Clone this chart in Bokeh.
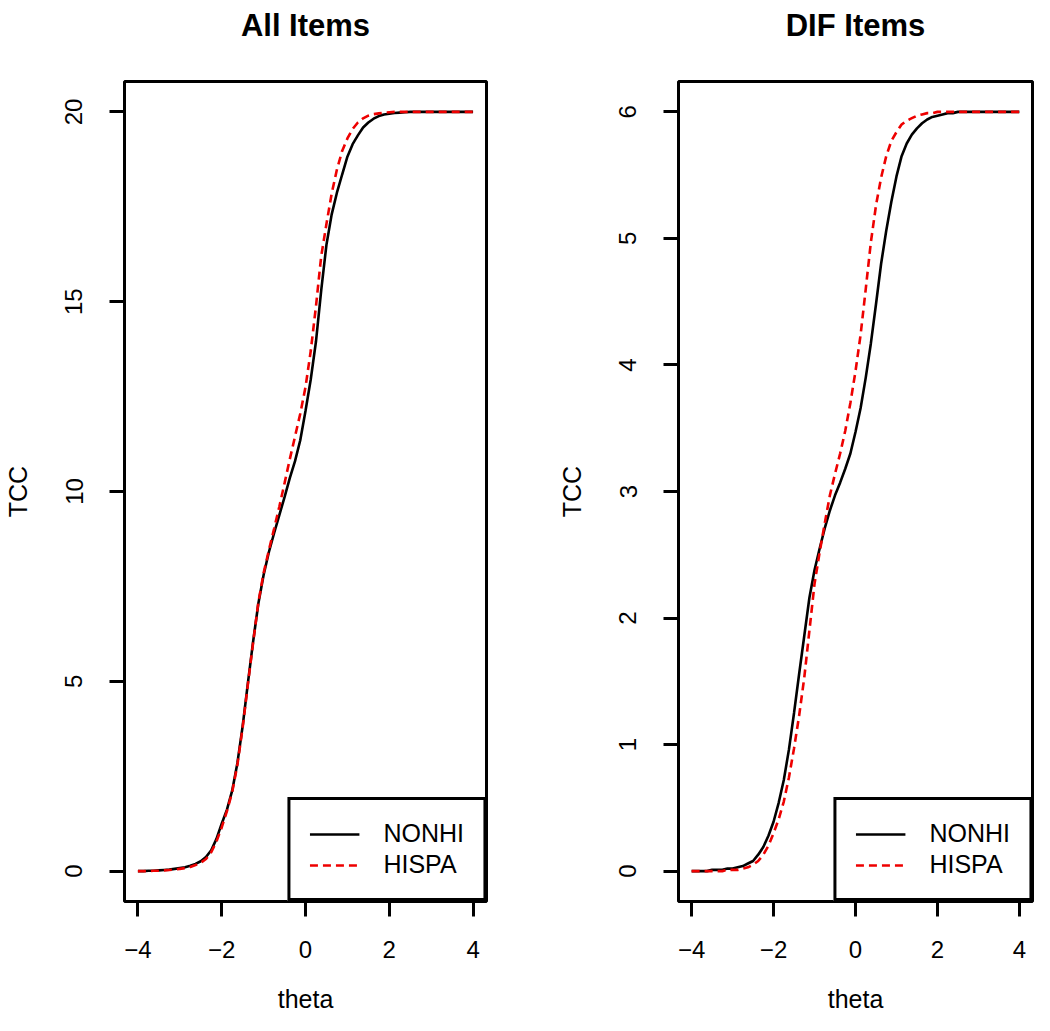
from bokeh.plotting import figure
from bokeh.models import Range1d, FixedTicker, Legend, LegendItem, Title
from bokeh.layouts import row
from bokeh.embed import file_html
from bokeh.resources import INLINE

# ---- data ----
theta = [-4.0, -3.875, -3.75, -3.625, -3.5, -3.375, -3.25, -3.125,
         -3.0, -2.875, -2.75, -2.625, -2.5, -2.375, -2.25, -2.125,
         -2.0, -1.875, -1.75, -1.625, -1.5, -1.375, -1.25, -1.125,
         -1.0, -0.875, -0.75, -0.625, -0.5, -0.375, -0.25, -0.125,
         0.0, 0.125, 0.25, 0.375, 0.5, 0.625, 0.75, 0.875,
         1.0, 1.125, 1.25, 1.375, 1.5, 1.625, 1.75, 1.875,
         2.0, 2.125, 2.25, 2.375, 2.5, 2.625, 2.75, 2.875,
         3.0, 3.125, 3.25, 3.375, 3.5, 3.625, 3.75, 3.875,
         4.0]

all_nonhi = [0.00, 0.00, 0.01, 0.01, 0.02, 0.03, 0.04, 0.06,
             0.08, 0.10, 0.14, 0.19, 0.26, 0.37, 0.55, 0.85,
             1.25, 1.62, 2.12, 2.85, 3.82, 4.95, 6.05, 7.05,
             7.80, 8.40, 8.90, 9.38, 9.85, 10.35, 10.80, 11.35,
             12.12, 12.95, 13.95, 15.30, 16.50, 17.30, 17.87, 18.35,
             18.82, 19.15, 19.38, 19.59, 19.72, 19.82, 19.89, 19.93,
             19.95, 19.97, 19.98, 19.99, 20.00, 20.00, 20.00, 20.00,
             20.00, 20.00, 20.00, 20.00, 20.00, 20.00, 20.00, 20.00,
             20.00]
all_hispa = [0.00, 0.00, 0.00, 0.01, 0.01, 0.02, 0.03, 0.04,
             0.06, 0.08, 0.11, 0.16, 0.22, 0.32, 0.50, 0.78,
             1.15, 1.58, 2.08, 2.80, 3.78, 4.92, 6.02, 7.08,
             7.85, 8.45, 9.02, 9.60, 10.22, 10.85, 11.45, 12.05,
             12.75, 13.70, 14.88, 16.20, 17.05, 17.85, 18.48, 18.97,
             19.30, 19.55, 19.72, 19.83, 19.90, 19.94, 19.96, 19.98,
             19.99, 20.00, 20.00, 20.00, 20.00, 20.00, 20.00, 20.00,
             20.00, 20.00, 20.00, 20.00, 20.00, 20.00, 20.00, 20.00,
             20.00]
dif_nonhi = [0.00, 0.00, 0.00, 0.00, 0.01, 0.01, 0.01, 0.02,
             0.02, 0.03, 0.04, 0.06, 0.08, 0.13, 0.19, 0.28,
             0.39, 0.54, 0.72, 0.96, 1.25, 1.56, 1.86, 2.16,
             2.38, 2.55, 2.71, 2.85, 2.97, 3.07, 3.18, 3.30,
             3.47, 3.66, 3.90, 4.17, 4.48, 4.80, 5.06, 5.29,
             5.49, 5.65, 5.75, 5.82, 5.87, 5.91, 5.94, 5.96,
             5.97, 5.98, 5.99, 5.99, 6.00, 6.00, 6.00, 6.00,
             6.00, 6.00, 6.00, 6.00, 6.00, 6.00, 6.00, 6.00,
             6.00]
dif_hispa = [0.00, 0.00, 0.00, 0.00, 0.00, 0.00, 0.00, 0.01,
             0.01, 0.01, 0.02, 0.03, 0.05, 0.08, 0.13, 0.20,
             0.30, 0.41, 0.55, 0.74, 0.97, 1.23, 1.53, 1.90,
             2.27, 2.52, 2.75, 2.97, 3.14, 3.30, 3.48, 3.70,
             3.95, 4.24, 4.60, 4.97, 5.26, 5.48, 5.65, 5.77,
             5.84, 5.90, 5.93, 5.95, 5.97, 5.98, 5.99, 5.99,
             6.00, 6.00, 6.00, 6.00, 6.00, 6.00, 6.00, 6.00,
             6.00, 6.00, 6.00, 6.00, 6.00, 6.00, 6.00, 6.00,
             6.00]

series_labels = ["NONHI", "HISPA"]
titles = ["All Items", "DIF Items"]
x_label = "theta"
y_label = "TCC"
x_ticks = [-4, -2, 0, 2, 4]
x_tick_labels = ["\u22124", "\u22122", "0", "2", "4"]
all_y_ticks = [0, 5, 10, 15, 20]
dif_y_ticks = [0, 1, 2, 3, 4, 5, 6]

FONT = "Liberation Sans"
RED = "#ee0000"


def panel(title, ys_nonhi, ys_hispa, y_ticks, width, min_left, min_right):
    ymax = max(y_ticks)
    pad_y = ymax * 0.04
    p = figure(width=width, height=1015, output_backend="svg",
               toolbar_location=None, tools="", title=None,
               x_range=Range1d(-4.32, 4.32),
               y_range=Range1d(-pad_y, ymax + pad_y),
               min_border_left=min_left, min_border_right=min_right,
               min_border_top=80, min_border_bottom=113,
               background_fill_color="white", border_fill_color="white")
    # spacer between the title and the plot box
    p.add_layout(Title(text=" ", text_font=FONT, text_font_size="20px",
                       text_color="white"), "above")
    p.add_layout(Title(text=title, align="center", text_font=FONT,
                       text_font_size="31px", text_font_style="bold",
                       text_color="black"), "above")
    p.xgrid.visible = False
    p.ygrid.visible = False
    p.outline_line_color = "black"
    p.outline_line_width = 3
    p.outline_line_alpha = 1

    for ax in (p.xaxis[0], p.yaxis[0]):
        ax.axis_line_color = None
        ax.major_tick_line_width = 3
        ax.major_tick_line_color = "black"
        ax.major_tick_out = 15
        ax.major_tick_in = 0
        ax.minor_tick_line_color = None
        ax.major_label_text_font = FONT
        ax.major_label_text_font_size = "24px"
        ax.major_label_text_color = "black"
        ax.axis_label_text_font = FONT
        ax.axis_label_text_font_size = "25px"
        ax.axis_label_text_font_style = "normal"
        ax.axis_label_text_color = "black"

    p.xaxis[0].ticker = FixedTicker(ticks=x_ticks)
    p.xaxis[0].major_label_overrides = dict(zip(x_ticks, x_tick_labels))
    p.xaxis[0].major_label_standoff = 24
    p.xaxis[0].axis_label = x_label
    p.xaxis[0].axis_label_standoff = 24

    p.yaxis[0].ticker = FixedTicker(ticks=y_ticks)
    p.yaxis[0].major_label_orientation = "vertical"
    p.yaxis[0].major_label_standoff = 27
    p.yaxis[0].axis_label = y_label
    p.yaxis[0].axis_label_standoff = 31

    r1 = p.line(theta, ys_nonhi, line_color="black", line_width=2.6)
    r2 = p.line(theta, ys_hispa, line_color=RED, line_width=2.6,
                line_dash="8 5")

    legend = Legend(items=[LegendItem(label=series_labels[0], renderers=[r1]),
                           LegendItem(label=series_labels[1], renderers=[r2])],
                    location="bottom_right", margin=0, padding=19, spacing=2,
                    glyph_width=50, glyph_height=26, label_standoff=24,
                    label_text_font=FONT, label_text_font_size="25px",
                    label_text_color="black",
                    border_line_color="black", border_line_width=3,
                    border_line_alpha=1,
                    background_fill_color="white", background_fill_alpha=1)
    p.add_layout(legend)
    return p


p1 = panel(titles[0], all_nonhi, all_hispa, all_y_ticks, 515, 124, 29)
p2 = panel(titles[1], dif_nonhi, dif_hispa, dif_y_ticks, 519, 163, 2)

layout = row(p1, p2)
open("out.html", "w").write(file_html(layout, INLINE))
